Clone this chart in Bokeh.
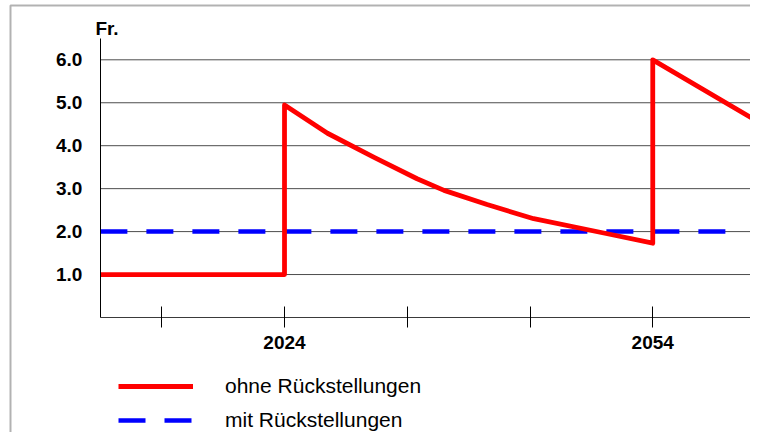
from bokeh.plotting import figure
from bokeh.models import (Range1d, FixedTicker, PrintfTickFormatter, Legend,
                          LegendItem, Label, BoxAnnotation)
from bokeh.embed import file_html
from bokeh.resources import INLINE

# ---- data -------------------------------------------------------------
jahre_ohne = [2009, 2024, 2024, 2027.5, 2031.3, 2034.8, 2037.0, 2040.5,
              2044.3, 2050.3, 2054, 2054, 2062.8]
werte_ohne = [1.0, 1.0, 4.95, 4.29, 3.73, 3.23, 2.96, 2.63,
              2.30, 1.95, 1.73, 6.0, 4.52]

jahre_mit = [2009, 2060]
werte_mit = [2.0, 2.0]

y_ticks = [1, 2, 3, 4, 5, 6]
x_ticks = [2014, 2024, 2034, 2044, 2054]
x_tick_labels = {2014: "", 2024: "2024", 2034: "", 2044: "", 2054: "2054"}

label_ohne = "ohne Rückstellungen"
label_mit = "mit Rückstellungen"
y_unit = "Fr."

FONT = "Liberation Sans"

# ---- figure -----------------------------------------------------------
p = figure(width=750, height=432,
           x_range=Range1d(2000.863, 2061.963),
           y_range=Range1d(-2.678, 7.381),
           output_backend="svg", toolbar_location=None, title=None,
           min_border=0, min_border_left=0, min_border_right=0,
           min_border_top=0, min_border_bottom=0)
p.outline_line_color = None
p.background_fill_color = "white"
p.border_fill_color = "white"
p.xgrid.visible = False
p.ygrid.visible = False

x0 = jahre_ohne[0]

# x axis (inside frame at y = 0)
xa = p.xaxis[0]
xa.fixed_location = 0
xa.bounds = (x0, 2070)
xa.ticker = FixedTicker(ticks=x_ticks)
xa.major_label_overrides = x_tick_labels
xa.major_tick_in = 11
xa.major_tick_out = 10
xa.minor_tick_line_color = None
xa.axis_line_color = "#3a3a3a"
xa.major_tick_line_color = "black"
xa.major_label_standoff = 9
xa.major_label_text_font = FONT
xa.major_label_text_font_style = "bold"
xa.major_label_text_font_size = "19px"
xa.major_label_text_color = "black"

# y axis (inside frame at first year)
ya = p.yaxis[0]
ya.fixed_location = x0
ya.bounds = (0, 6.5)
ya.ticker = FixedTicker(ticks=y_ticks)
ya.formatter = PrintfTickFormatter(format="%.1f")
ya.major_tick_in = 0
ya.major_tick_out = 0
ya.minor_tick_line_color = None
ya.axis_line_color = "black"
ya.major_label_standoff = 18
ya.major_label_text_font = FONT
ya.major_label_text_font_style = "bold"
ya.major_label_text_font_size = "19px"
ya.major_label_text_color = "black"

# horizontal grid lines, starting at the y axis
p.segment(x0=[x0] * len(y_ticks), y0=y_ticks,
          x1=[2070] * len(y_ticks), y1=y_ticks,
          line_color="#4d4d4d", line_width=1)

# series
r_mit = p.line(jahre_mit, werte_mit, line_color="#0000ff", line_width=4.5,
               line_dash="27 19")
r_ohne = p.line(jahre_ohne, werte_ohne, line_color="#ff0000", line_width=4.8,
                line_join="round")

# unit label
p.add_layout(Label(x=x0, y=6.5, x_offset=-5, y_offset=10, text=y_unit,
                   text_font=FONT, text_font_style="bold",
                   text_font_size="19px", text_color="black",
                   text_baseline="alphabetic", text_align="left"))

# legend
legend = Legend(items=[LegendItem(label=label_ohne, renderers=[r_ohne]),
                       LegendItem(label=label_mit, renderers=[r_mit])],
                location=(118, -1), orientation="vertical",
                glyph_width=75, glyph_height=26, label_height=26,
                label_standoff=32, spacing=8, padding=0, margin=0,
                border_line_color=None, background_fill_alpha=0,
                label_text_font=FONT, label_text_font_size="21px",
                label_text_color="black")
p.add_layout(legend)

# outer frame box (right and bottom edges lie outside the picture)
p.add_layout(BoxAnnotation(left=10, right=3000, top=5, bottom=3000,
                           left_units="canvas", right_units="canvas",
                           top_units="canvas", bottom_units="canvas",
                           fill_alpha=0, line_color="black", line_width=2))

open("out.html", "w").write(file_html(p, INLINE))
